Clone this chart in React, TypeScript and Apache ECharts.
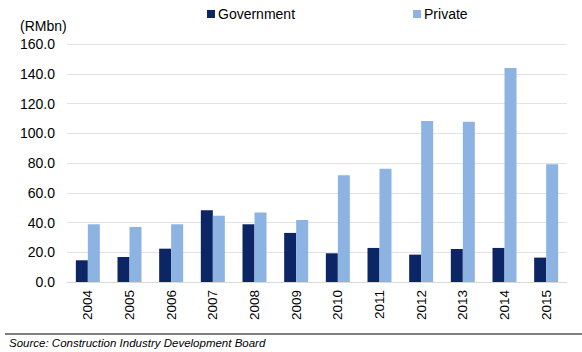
import React, { useEffect, useRef } from "react";
import * as echarts from "echarts";

const years = ["2004", "2005", "2006", "2007", "2008", "2009", "2010", "2011", "2012", "2013", "2014", "2015"];
const government = [14.6, 16.8, 22.4, 48.2, 38.8, 33.0, 19.3, 22.9, 18.4, 22.2, 22.9, 16.4];
const privateSector = [38.8, 37.0, 38.8, 44.6, 46.8, 41.7, 71.7, 76.2, 108.2, 107.8, 143.9, 79.1];

export default function App() {
  const ref = useRef<HTMLDivElement>(null);
  useEffect(() => {
    const chart = echarts.init(ref.current!, null, { renderer: "svg" });
    const font = "Liberation Sans, Arial, sans-serif";
    chart.setOption({
      animation: false,
      textStyle: { fontFamily: font },
      legend: {
        left: 207,
        top: 7,
        padding: 0,
        itemWidth: 8,
        itemHeight: 8,
        itemGap: 118,
        icon: "rect",
        textStyle: { fontSize: 14, color: "#000", fontFamily: font, padding: [0, 0, 0, -2] },
        data: ["Government", "Private"],
      },
      grid: { left: 67, right: 15, top: 44, bottom: 70, containLabel: false },
      xAxis: {
        type: "category",
        data: years,
        axisLine: { show: true, lineStyle: { color: "#d9d9d9" } },
        axisTick: { show: false },
        axisLabel: { rotate: 90, fontSize: 13.5, color: "#000", margin: 8, fontFamily: font },
      },
      yAxis: {
        type: "value",
        min: 0,
        max: 160,
        interval: 20,
        axisLine: { show: false },
        axisTick: { show: false },
        splitLine: { lineStyle: { color: "#e3e3e3" } },
        axisLabel: {
          fontSize: 14,
          color: "#000",
          margin: 12,
          fontFamily: font,
          formatter: (v: number) => v.toFixed(1),
        },
      },
      graphic: [
        { type: "text", left: 20, top: 19, style: { text: "(RMbn)", fontSize: 14, fill: "#000", fontFamily: font } },
        { type: "line", shape: { x1: 5, y1: 334, x2: 582, y2: 334 }, style: { stroke: "#555", lineWidth: 1.5 } },
        {
          type: "text",
          left: 9,
          top: 337,
          style: { text: "Source: Construction Industry Development Board", fontSize: 11.5, fontStyle: "italic", fill: "#000", fontFamily: font },
        },
      ],
      series: [
        { name: "Government", type: "bar", data: government, barWidth: 12, barGap: "0%", itemStyle: { color: "#0b2565" } },
        { name: "Private", type: "bar", data: privateSector, barWidth: 12, barGap: "0%", itemStyle: { color: "#8db3e2" } },
      ],
    });
    return () => chart.dispose();
  }, []);
  return <div ref={ref} style={{ position: "absolute", left: 0, top: 0, width: 582, height: 352 }} />;
}
